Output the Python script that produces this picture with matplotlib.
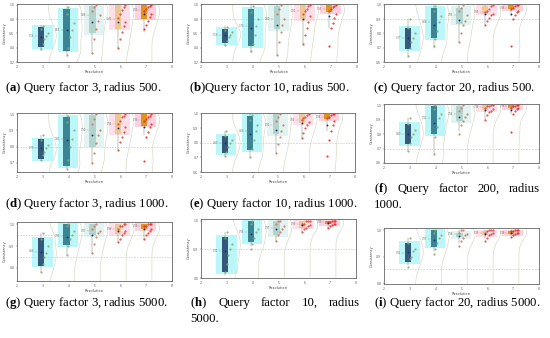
import numpy as np
import matplotlib
matplotlib.use("Agg")
import matplotlib.pyplot as plt
from matplotlib.patches import Rectangle

plt.rcParams['mathtext.fontset'] = 'custom'
plt.rcParams['mathtext.rm'] = 'Liberation Serif'
plt.rcParams['mathtext.bf'] = 'Liberation Serif:bold'

resolutions = [3, 4, 5, 6, 7]
panel_ids = ['a', 'b', 'c', 'd', 'e', 'f', 'g', 'h', 'i']
captions = {
    'a': "Query factor 3, radius 500.",
    'b': "Query factor 10, radius 500.",
    'c': "Query factor 20, radius 500.",
    'd': "Query factor 3, radius 1000.",
    'e': "Query factor 10, radius 1000.",
    'f': "Query factor 200, radius 1000.",
    'g': "Query factor 3, radius 5000.",
    'h': "Query factor 10, radius 5000.",
    'i': "Query factor 20, radius 5000.",
}

# y ranges / ticks per panel
ylims = {'a': (0.2, 1.014), 'b': (0.2, 1.014), 'c': (0.6, 1.007),
         'd': (0.644, 1.007), 'e': (0.6, 1.005), 'f': (0.6, 1.007),
         'g': (0.74, 1.01), 'h': (0.8, 1.006), 'i': (0.798, 1.008)}
yticks = {'a': [0.2, 0.4, 0.6, 0.8, 1.0], 'b': [0.2, 0.4, 0.6, 0.8, 1.0],
          'c': [0.6, 0.7, 0.8, 0.9, 1.0], 'd': [0.7, 0.8, 0.9, 1.0],
          'e': [0.6, 0.7, 0.8, 0.9, 1.0], 'f': [0.6, 0.7, 0.8, 0.9, 1.0],
          'g': [0.8, 0.9, 1.0], 'h': [0.8, 0.9, 1.0], 'i': [0.8, 0.9, 1.0]}
ref_lines = {'a': [0.8], 'b': [0.8], 'c': [0.9], 'd': [0.8], 'e': [0.8],
             'f': [0.7], 'g': [0.95, 0.85], 'h': [0.9], 'i': [0.853]}

# box stats per resolution: (low whisker, q1, median, q3, high whisker)
boxes = {
    'a': [(0.37, 0.41, 0.56, 0.69, 0.72), (0.30, 0.36, 0.65, 0.94, 0.99),
          (0.33, 0.60, 0.86, 0.98, 1.0), (0.40, 0.67, 0.81, 1.0, 1.0),
          (0.62, 0.81, 0.93, 1.0, 1.0)],
    'b': [(0.43, 0.47, 0.58, 0.66, 0.70), (0.33, 0.42, 0.70, 0.95, 1.0),
          (0.30, 0.66, 0.80, 0.98, 1.0), (0.45, 0.80, 0.91, 1.0, 1.0),
          (0.68, 0.90, 0.95, 1.0, 1.0)],
    'c': [(0.64, 0.69, 0.77, 0.84, 0.90), (0.70, 0.77, 0.88, 0.98, 1.0),
          (0.74, 0.87, 0.93, 0.98, 1.0), (0.86, 0.94, 0.95, 0.99, 1.0),
          (0.92, 0.97, 0.98, 1.0, 1.0)],
    'd': [(0.71, 0.725, 0.79, 0.845, 0.87), (0.66, 0.68, 0.85, 0.985, 1.0),
          (0.70, 0.80, 0.90, 0.995, 1.0), (0.78, 0.88, 0.94, 1.0, 1.0),
          (0.87, 0.93, 0.965, 1.0, 1.0)],
    'e': [(0.71, 0.73, 0.80, 0.85, 0.88), (0.70, 0.75, 0.88, 0.985, 1.0),
          (0.73, 0.86, 0.92, 1.0, 1.0), (0.83, 0.935, 0.96, 1.0, 1.0),
          (0.88, 0.963, 0.98, 1.0, 1.0)],
    'f': [(0.68, 0.73, 0.80, 0.87, 0.91), (0.66, 0.80, 0.91, 0.99, 1.0),
          (0.82, 0.89, 0.94, 0.99, 1.0), (0.90, 0.965, 0.985, 1.0, 1.0),
          (0.94, 0.977, 0.99, 1.0, 1.0)],
    'g': [(0.78, 0.81, 0.875, 0.935, 0.96), (0.86, 0.905, 0.946, 1.0, 1.0),
          (0.87, 0.95, 0.97, 1.0, 1.0), (0.92, 0.953, 0.98, 1.0, 1.0),
          (0.93, 0.977, 0.99, 1.0, 1.0)],
    'h': [(0.81, 0.82, 0.896, 0.944, 0.96), (0.91, 0.924, 0.959, 1.0, 1.0),
          (0.93, 0.951, 0.975, 1.0, 1.0), (0.96, 0.976, 0.99, 1.0, 1.0),
          (0.975, 0.988, 0.995, 1.0, 1.0)],
    'i': [(0.87, 0.88, 0.915, 0.952, 0.97), (0.92, 0.938, 0.967, 1.0, 1.0),
          (0.95, 0.973, 0.985, 0.99, 1.0), (0.97, 0.98, 0.99, 0.995, 1.0),
          (0.98, 0.985, 0.99, 0.995, 1.0)],
}

# scattered observations per resolution
points = {
    'a': [[0.38, 0.45, 0.52, 0.56, 0.60, 0.66, 0.71],
          [0.30, 0.40, 0.55, 0.65, 0.75, 0.88, 0.97],
          [0.33, 0.52, 0.66, 0.78, 0.86, 0.92, 0.97, 1.0],
          [0.40, 0.52, 0.62, 0.70, 0.76, 0.82, 0.88, 0.93, 0.97, 1.0],
          [0.66, 0.72, 0.78, 0.83, 0.87, 0.91, 0.94, 0.97, 0.99, 1.0]],
    'b': [[0.44, 0.50, 0.55, 0.58, 0.62, 0.65, 0.69],
          [0.35, 0.45, 0.58, 0.70, 0.80, 0.90, 0.98],
          [0.30, 0.48, 0.62, 0.72, 0.80, 0.88, 0.95, 1.0],
          [0.45, 0.58, 0.68, 0.76, 0.84, 0.88, 0.92, 0.95, 0.98, 1.0],
          [0.43, 0.68, 0.75, 0.82, 0.88, 0.92, 0.95, 0.97, 0.99, 1.0]],
    'c': [[0.64, 0.70, 0.74, 0.77, 0.80, 0.84, 0.90],
          [0.71, 0.76, 0.82, 0.88, 0.92, 0.96, 0.99],
          [0.74, 0.80, 0.86, 0.89, 0.93, 0.96, 0.98, 1.0],
          [0.86, 0.89, 0.91, 0.93, 0.94, 0.95, 0.96, 0.97, 0.99, 1.0],
          [0.71, 0.90, 0.93, 0.95, 0.96, 0.97, 0.98, 0.99, 1.0, 1.0]],
    'd': [[0.72, 0.75, 0.77, 0.79, 0.81, 0.84, 0.87],
          [0.66, 0.72, 0.80, 0.85, 0.90, 0.95, 0.99],
          [0.70, 0.76, 0.82, 0.87, 0.90, 0.94, 0.97, 1.0],
          [0.78, 0.83, 0.86, 0.89, 0.92, 0.94, 0.96, 0.98, 0.99, 1.0],
          [0.71, 0.86, 0.89, 0.92, 0.94, 0.96, 0.97, 0.98, 0.99, 1.0]],
    'e': [[0.71, 0.74, 0.77, 0.80, 0.82, 0.85, 0.88],
          [0.70, 0.76, 0.82, 0.88, 0.92, 0.96, 0.99],
          [0.73, 0.79, 0.84, 0.88, 0.92, 0.95, 0.98, 1.0],
          [0.83, 0.87, 0.90, 0.92, 0.94, 0.96, 0.97, 0.98, 0.99, 1.0],
          [0.71, 0.82, 0.88, 0.92, 0.95, 0.97, 0.98, 0.99, 1.0, 1.0]],
    'f': [[0.68, 0.74, 0.78, 0.80, 0.83, 0.87, 0.91],
          [0.66, 0.78, 0.85, 0.91, 0.94, 0.97, 1.0],
          [0.80, 0.86, 0.89, 0.92, 0.94, 0.96, 0.98, 1.0],
          [0.90, 0.93, 0.95, 0.96, 0.97, 0.98, 0.99, 0.99, 1.0, 1.0],
          [0.815, 0.94, 0.96, 0.97, 0.98, 0.98, 0.99, 0.99, 1.0, 1.0]],
    'g': [[0.78, 0.82, 0.85, 0.87, 0.90, 0.93, 0.96],
          [0.86, 0.90, 0.93, 0.95, 0.97, 0.99, 1.0],
          [0.87, 0.91, 0.94, 0.96, 0.97, 0.98, 0.99, 1.0],
          [0.92, 0.93, 0.95, 0.96, 0.97, 0.98, 0.99, 0.99, 1.0, 1.0],
          [0.93, 0.95, 0.96, 0.97, 0.98, 0.99, 0.99, 1.0, 1.0, 1.0]],
    'h': [[0.82, 0.85, 0.88, 0.90, 0.92, 0.94, 0.96],
          [0.90, 0.92, 0.94, 0.96, 0.97, 0.99, 1.0],
          [0.93, 0.95, 0.96, 0.97, 0.98, 0.99, 1.0, 1.0],
          [0.96, 0.97, 0.975, 0.98, 0.985, 0.99, 0.99, 1.0, 1.0, 1.0],
          [0.975, 0.98, 0.985, 0.99, 0.99, 0.995, 0.995, 1.0, 1.0, 1.0]],
    'i': [[0.86, 0.89, 0.90, 0.92, 0.93, 0.95, 0.97],
          [0.91, 0.93, 0.95, 0.97, 0.98, 0.99, 1.0],
          [0.94, 0.96, 0.97, 0.98, 0.985, 0.99, 1.0, 1.0],
          [0.96, 0.97, 0.98, 0.985, 0.99, 0.99, 0.995, 1.0, 1.0, 1.0],
          [0.975, 0.98, 0.985, 0.99, 0.99, 0.995, 0.995, 1.0, 1.0, 1.0]],
}

box_colors = ['#34597a', '#3b8494', '#b3d4cc', '#ecc896', '#e0951c']
bg_colors = ['#8ff2f5', '#8ff2f5', '#d0ebe8', '#ffcadd', '#ffb3c8']
dot_colors = ['#8fa774', '#8fa774', '#c9745e', '#dd3f33', '#e8281f']

# layout in pixels: left, top, right, bottom
axes_px = {'a': (17, 4, 172, 62), 'b': (201, 4, 357, 62), 'c': (384, 4, 539, 62),
           'd': (17, 113, 172, 172), 'e': (201, 113, 355, 172), 'f': (384, 104, 539, 163),
           'g': (17, 222, 172, 281), 'h': (201, 219, 356, 278), 'i': (384, 228, 539, 284)}
cap_px = {'a': (5, 88), 'b': (189, 88), 'c': (373, 88),
          'd': (5, 204), 'e': (189, 204), 'f': (374, 189),
          'g': (5, 303), 'h': (190, 303), 'i': (374, 303)}
cap_width = {'f': 166, 'h': 170}

W, H = 550, 338
fig = plt.figure(figsize=(W / 100, H / 100), dpi=100)


def half_violin(ax, pos, vals, lo, hi):
    vals = np.asarray(vals)
    span = hi - lo
    bw = 0.12 * span
    ys = np.linspace(lo - 0.3 * span, hi + 0.05 * span, 200)
    dens = np.exp(-0.5 * ((ys[:, None] - vals[None, :]) / bw) ** 2).sum(axis=1)
    dens = dens / dens.max() * 0.3
    ax.plot(pos + 0.22 + dens, ys, color='#d3d9bf', lw=0.45, zorder=1)


for pid in panel_ids:
    l, t, r, b = axes_px[pid]
    ax = fig.add_axes([l / W, 1 - b / H, (r - l) / W, (b - t) / H])
    lo, hi = ylims[pid]
    ax.set_xlim(2, 8)
    ax.set_ylim(lo, hi)
    for yv in ref_lines[pid]:
        ax.axhline(yv, color='#bbbbbb', lw=0.4, ls=(0, (3, 2)), zorder=0)
    stats = []
    for k, res in enumerate(resolutions):
        wl, q1, med, q3, wh = boxes[pid][k]
        pad = 0.03 * (hi - lo)
        ax.add_patch(Rectangle((res - 0.42, q1 - pad), 0.8, q3 - q1 + 2 * pad,
                               color=bg_colors[k], alpha=0.6, lw=0, zorder=1))
        half_violin(ax, res, points[pid][k], lo, hi)
        stats.append({'whislo': wl, 'q1': q1, 'med': med, 'q3': q3, 'whishi': wh, 'fliers': []})
        ax.text(res - 0.32, med, f"{med:.2f}", fontsize=1.8, color='#777777',
                ha='right', va='center', zorder=4)
        ax.plot([res - 0.3, res - 0.22], [med, med], color='#999999', lw=0.3, zorder=4)
        vals = points[pid][k]
        offs = [(-0.08 + 0.07 * (j % 5)) for j in range(len(vals))]
        ax.scatter([res + o for o in offs], vals, s=2.6, color=dot_colors[k],
                   alpha=0.85, lw=0, zorder=5)
        ax.scatter([res - 0.08], [np.mean(vals)], s=1.8, color='#1a2f6b', lw=0, zorder=6)
    bp = ax.bxp(stats, positions=[res - 0.08 for res in resolutions], widths=0.24,
                patch_artist=True, showfliers=False, showcaps=False,
                manage_ticks=False,
                boxprops=dict(lw=0), medianprops=dict(color='#1f3a5a', lw=0.3),
                whiskerprops=dict(color='#5a7a5a', lw=0.3))
    for patch, c in zip(bp['boxes'], box_colors):
        patch.set_facecolor(c)
        patch.set_zorder(3)
    ax.set_xticks([2, 3, 4, 5, 6, 7, 8])
    ax.set_yticks(yticks[pid])
    ax.set_yticklabels([f"{v:.1f}" for v in yticks[pid]])
    ax.tick_params(labelsize=2.2, length=1, width=0.3, pad=1, colors='#555555')
    for sp in ax.spines.values():
        sp.set_linewidth(0.6)
        sp.set_color('#666666')
    ax.set_xlabel("Resolution", fontsize=2.5, labelpad=1, color='#444444')
    ax.set_ylabel("Consistency", fontsize=2.5, labelpad=1.5, color='#444444')

renderer = fig.canvas.get_renderer()
cap_font = dict(family='Liberation Serif', fontsize=9.2, color='black')
for pid in panel_ids:
    x0, y0 = cap_px[pid]
    label = f"($\\mathbf{{{pid}}}$)"
    sep = "" if pid == 'b' else " "
    text = label + sep + captions[pid]
    if pid in cap_width:
        words = text.split(" ")
        first, last = words[:-1], words[-1]
        objs = [fig.text(0, 1 - y0 / H, w, va='center', **cap_font) for w in first]
        widths = [o.get_window_extent(renderer).width for o in objs]
        gap = (cap_width[pid] - sum(widths)) / (len(objs) - 1)
        x = x0
        for o, w in zip(objs, widths):
            o.set_x(x / W)
            x += w + gap
        fig.text(x0 / W, 1 - (y0 + 16) / H, last, va='center', **cap_font)
    else:
        fig.text(x0 / W, 1 - y0 / H, text, va='center', **cap_font)

fig.savefig("out.png", dpi=100)
